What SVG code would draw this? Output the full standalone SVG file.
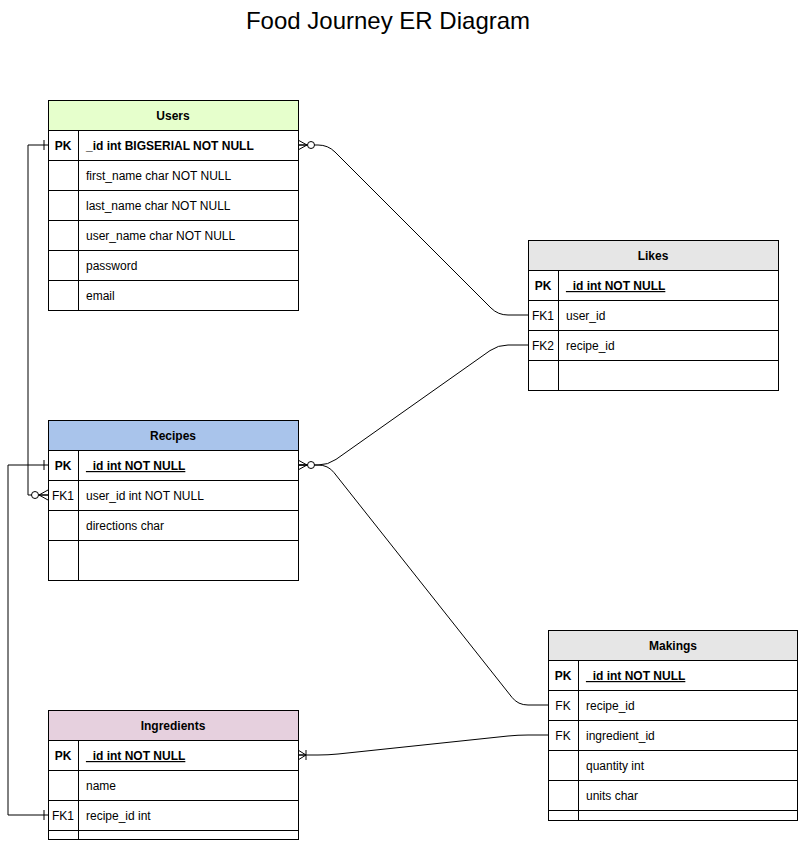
<svg xmlns="http://www.w3.org/2000/svg" xmlns:xlink="http://www.w3.org/1999/xlink" width="799" height="841" viewBox="0 0 799 841">
<style>
  text { font-family: "Liberation Sans", Arial, sans-serif; font-size: 12px; fill: #000; }
  .title { font-size: 24px; text-anchor: middle; }
  .hdr { font-weight: bold; text-anchor: middle; }
  .key { text-anchor: middle; }
  .b { font-weight: bold; }
  .u { text-decoration: underline; }
  .box { fill: #fff; stroke: #000; stroke-width: 1; }
  .ln { stroke: #000; stroke-width: 1; fill: none; }
  .edge { stroke: #000; stroke-width: 1; fill: none; }
  .mk { stroke: #000; stroke-width: 1; fill: none; }
  .mkc { stroke: #000; stroke-width: 1; fill: #fff; }
</style>
<defs>
  <g id="zeroMany">
    <path class="mk" d="M0,-5 L9,0 M0,5 L9,0 M0,0 L9,0"/>
    <circle class="mkc" cx="13" cy="0" r="3.5"/>
  </g>
  <g id="oneMany">
    <path class="mk" d="M0,-5 L8,0 M0,5 L8,0 M0,0 L8,0 M8,-5 L8,5"/>
  </g>
  <g id="one">
    <path class="mk" d="M4,-5 L4,5"/>
  </g>
</defs>
<rect width="799" height="841" fill="#fff"/>
<text class="title" x="388" y="29">Food Journey ER Diagram</text>

<g id="connectors">
  <path class="edge" d="M298,145 H318 Q328,145 335,152 L491,308 Q498,315 508,315 H528"/>
  <path class="edge" d="M298,465 H318 Q328,465 336,459.4 L490,350.6 Q498,345 508,345 H528"/>
  <path class="edge" d="M298,465 H318 Q328,465 334,472.6 L512,697.4 Q518,705 528,705 H548"/>
  <path class="edge" d="M298,755 H318 Q328,755 338,754 L508,736 Q518,735 528,735 H548"/>
  <path class="edge" d="M48,145 H28 V495 H48"/>
  <path class="edge" d="M48,465 H8 V815 H48"/>
  <use xlink:href="#zeroMany" transform="translate(298,145)"/>
  <use xlink:href="#zeroMany" transform="translate(298,465)"/>
  <use xlink:href="#oneMany" transform="translate(298,755)"/>
  <use xlink:href="#one" transform="translate(48,145) scale(-1,1)"/>
  <use xlink:href="#zeroMany" transform="translate(48,495) scale(-1,1)"/>
  <use xlink:href="#one" transform="translate(48,465) scale(-1,1)"/>
  <use xlink:href="#one" transform="translate(48,815) scale(-1,1)"/>
</g>

<g id="users">
  <rect class="box" x="48.5" y="100.5" width="250" height="210"/>
  <rect x="49" y="101" width="249" height="29" fill="#e6ffcc"/>
  <path class="ln" d="M48.5,130.5 H298.5 M48.5,160.5 H298.5 M48.5,190.5 H298.5 M48.5,220.5 H298.5 M48.5,250.5 H298.5 M48.5,280.5 H298.5 M78.5,130.5 V310.5"/>
  <text class="hdr" x="173" y="120">Users</text>
  <text class="key b" x="63" y="150">PK</text>
  <text class="b" x="86" y="150">_id int BIGSERIAL NOT NULL</text>
  <text x="86" y="180">first_name char NOT NULL</text>
  <text x="86" y="210">last_name char NOT NULL</text>
  <text x="86" y="240">user_name char NOT NULL</text>
  <text x="86" y="270">password</text>
  <text x="86" y="300">email</text>
</g>

<g id="likes">
  <rect class="box" x="528.5" y="240.5" width="250" height="150"/>
  <rect x="529" y="241" width="249" height="29" fill="#e6e6e6"/>
  <path class="ln" d="M528.5,270.5 H778.5 M528.5,300.5 H778.5 M528.5,330.5 H778.5 M528.5,360.5 H778.5 M558.5,270.5 V390.5"/>
  <text class="hdr" x="653" y="260">Likes</text>
  <text class="key b" x="543" y="290">PK</text>
  <text class="b u" x="566" y="290">_id int NOT NULL</text>
  <text class="key" x="543" y="320">FK1</text>
  <text x="566" y="320">user_id</text>
  <text class="key" x="543" y="350">FK2</text>
  <text x="566" y="350">recipe_id</text>
</g>

<g id="recipes">
  <rect class="box" x="48.5" y="420.5" width="250" height="160"/>
  <rect x="49" y="421" width="249" height="29" fill="#a9c4eb"/>
  <path class="ln" d="M48.5,450.5 H298.5 M48.5,480.5 H298.5 M48.5,510.5 H298.5 M48.5,540.5 H298.5 M78.5,450.5 V580.5"/>
  <text class="hdr" x="173" y="440">Recipes</text>
  <text class="key b" x="63" y="470">PK</text>
  <text class="b u" x="86" y="470">_id int NOT NULL</text>
  <text class="key" x="63" y="500">FK1</text>
  <text x="86" y="500">user_id int NOT NULL</text>
  <text x="86" y="530">directions char</text>
</g>

<g id="makings">
  <rect class="box" x="548.5" y="630.5" width="249" height="190"/>
  <rect x="549" y="631" width="248" height="29" fill="#e6e6e6"/>
  <path class="ln" d="M548.5,660.5 H797.5 M548.5,690.5 H797.5 M548.5,720.5 H797.5 M548.5,750.5 H797.5 M548.5,780.5 H797.5 M548.5,810.5 H797.5 M578.5,660.5 V820.5"/>
  <text class="hdr" x="673" y="650">Makings</text>
  <text class="key b" x="563" y="680">PK</text>
  <text class="b u" x="586" y="680">_id int NOT NULL</text>
  <text class="key" x="563" y="710">FK</text>
  <text x="586" y="710">recipe_id</text>
  <text class="key" x="563" y="740">FK</text>
  <text x="586" y="740">ingredient_id</text>
  <text x="586" y="770">quantity int</text>
  <text x="586" y="800">units char</text>
</g>

<g id="ingredients">
  <rect class="box" x="48.5" y="710.5" width="250" height="129"/>
  <rect x="49" y="711" width="249" height="29" fill="#e6d0de"/>
  <path class="ln" d="M48.5,740.5 H298.5 M48.5,770.5 H298.5 M48.5,800.5 H298.5 M48.5,830.5 H298.5 M78.5,740.5 V839.5"/>
  <text class="hdr" x="173" y="730">Ingredients</text>
  <text class="key b" x="63" y="760">PK</text>
  <text class="b u" x="86" y="760">_id int NOT NULL</text>
  <text x="86" y="790">name</text>
  <text class="key" x="63" y="820">FK1</text>
  <text x="86" y="820">recipe_id int</text>
</g>
</svg>
